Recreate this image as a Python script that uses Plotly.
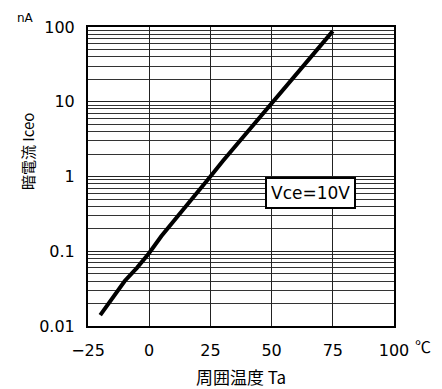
import plotly.graph_objects as go

# ambient temperature (deg C) vs dark current (nA)
temp_c = [-20, -15, -10, -5, 0, 5, 10, 15, 20, 25, 30, 35, 40, 45, 50, 55, 60, 65, 70, 75]
dark_na = [0.014, 0.024, 0.04, 0.06, 0.095, 0.16, 0.25, 0.4, 0.63, 1.0,
           1.6, 2.5, 4.0, 6.2, 9.6, 15, 24, 37, 58, 88]

x_ticks = [-25, 0, 25, 50, 75, 100]
x_labels = ["\u221225", "0", "25", "50", "75", "100"]
y_ticks = [0.01, 0.1, 1, 10, 100]
y_labels = ["0.01", "0.1", "1", "10", "100"]

minor_vals = [d * m for d in [0.01, 0.1, 1, 10] for m in range(2, 10)]

font_num = "DejaVu Sans, sans-serif"
font_jp = "Noto Sans CJK JP, sans-serif"

fig = go.Figure()
fig.add_trace(go.Scatter(
    x=temp_c,
    y=dark_na,
    mode="lines",
    line=dict(color="black", width=4),
    showlegend=False,
))

fig.update_xaxes(
    range=[-25, 100],
    tickvals=x_ticks,
    ticktext=x_labels,
    showgrid=True,
    gridcolor="#222",
    gridwidth=1,
    zeroline=False,
    showline=True,
    linecolor="black",
    linewidth=2,
    mirror=True,
    ticks="",
    ticklabelstandoff=9,
    automargin=False,
    tickfont=dict(family=font_num, size=16, color="black"),
)
fig.update_yaxes(
    type="log",
    range=[-2, 2],
    tickvals=y_ticks,
    ticktext=y_labels,
    showgrid=True,
    gridcolor="#222",
    gridwidth=1,
    minor=dict(tickvals=minor_vals, showgrid=True, gridcolor="#333", gridwidth=1, ticks=""),
    zeroline=False,
    showline=True,
    linecolor="black",
    linewidth=2,
    mirror=True,
    ticks="",
    ticklabelstandoff=8,
    automargin=False,
    tickfont=dict(family=font_num, size=16, color="black"),
)

fig.add_annotation(
    x=66, y=-0.22, xref="x", yref="y",
    text="Vce=10V",
    showarrow=False,
    bgcolor="white",
    bordercolor="black",
    borderwidth=2,
    borderpad=4,
    font=dict(family=font_num, size=17, color="black"),
)
# unit labels
fig.add_annotation(
    x=0, y=1.0, xref="paper", yref="paper",
    xanchor="right", yanchor="middle",
    xshift=-52, yshift=9,
    text="nA", showarrow=False,
    font=dict(family=font_num, size=12, color="black"),
)
fig.add_annotation(
    x=1.0, y=0.0, xref="paper", yref="paper",
    xanchor="center", yanchor="middle",
    xshift=29, yshift=-20,
    text="℃", showarrow=False,
    font=dict(family=font_jp, size=16, color="black"),
)
# axis titles
fig.add_annotation(
    x=0.5, y=0.0, xref="paper", yref="paper",
    xanchor="center", yanchor="middle",
    yshift=-50,
    text="周囲温度 Ta", showarrow=False,
    font=dict(family=font_jp, size=17, color="black"),
)
fig.add_annotation(
    x=0, y=0.0, xref="paper", yref="paper",
    xanchor="center", yanchor="middle",
    xshift=-61, yshift=174,
    text="暗電流 Iceo", showarrow=False, textangle=-90,
    font=dict(family=font_jp, size=15, color="black"),
)

fig.update_layout(
    width=442,
    height=389,
    margin=dict(l=88, r=48, t=27, b=63),
    paper_bgcolor="white",
    plot_bgcolor="white",
)

# drop the page's default body margin so the figure sits at the window corner
fig.write_html(
    "out.html",
    config={"displayModeBar": False},
    post_script="document.body.style.margin='0';",
)
